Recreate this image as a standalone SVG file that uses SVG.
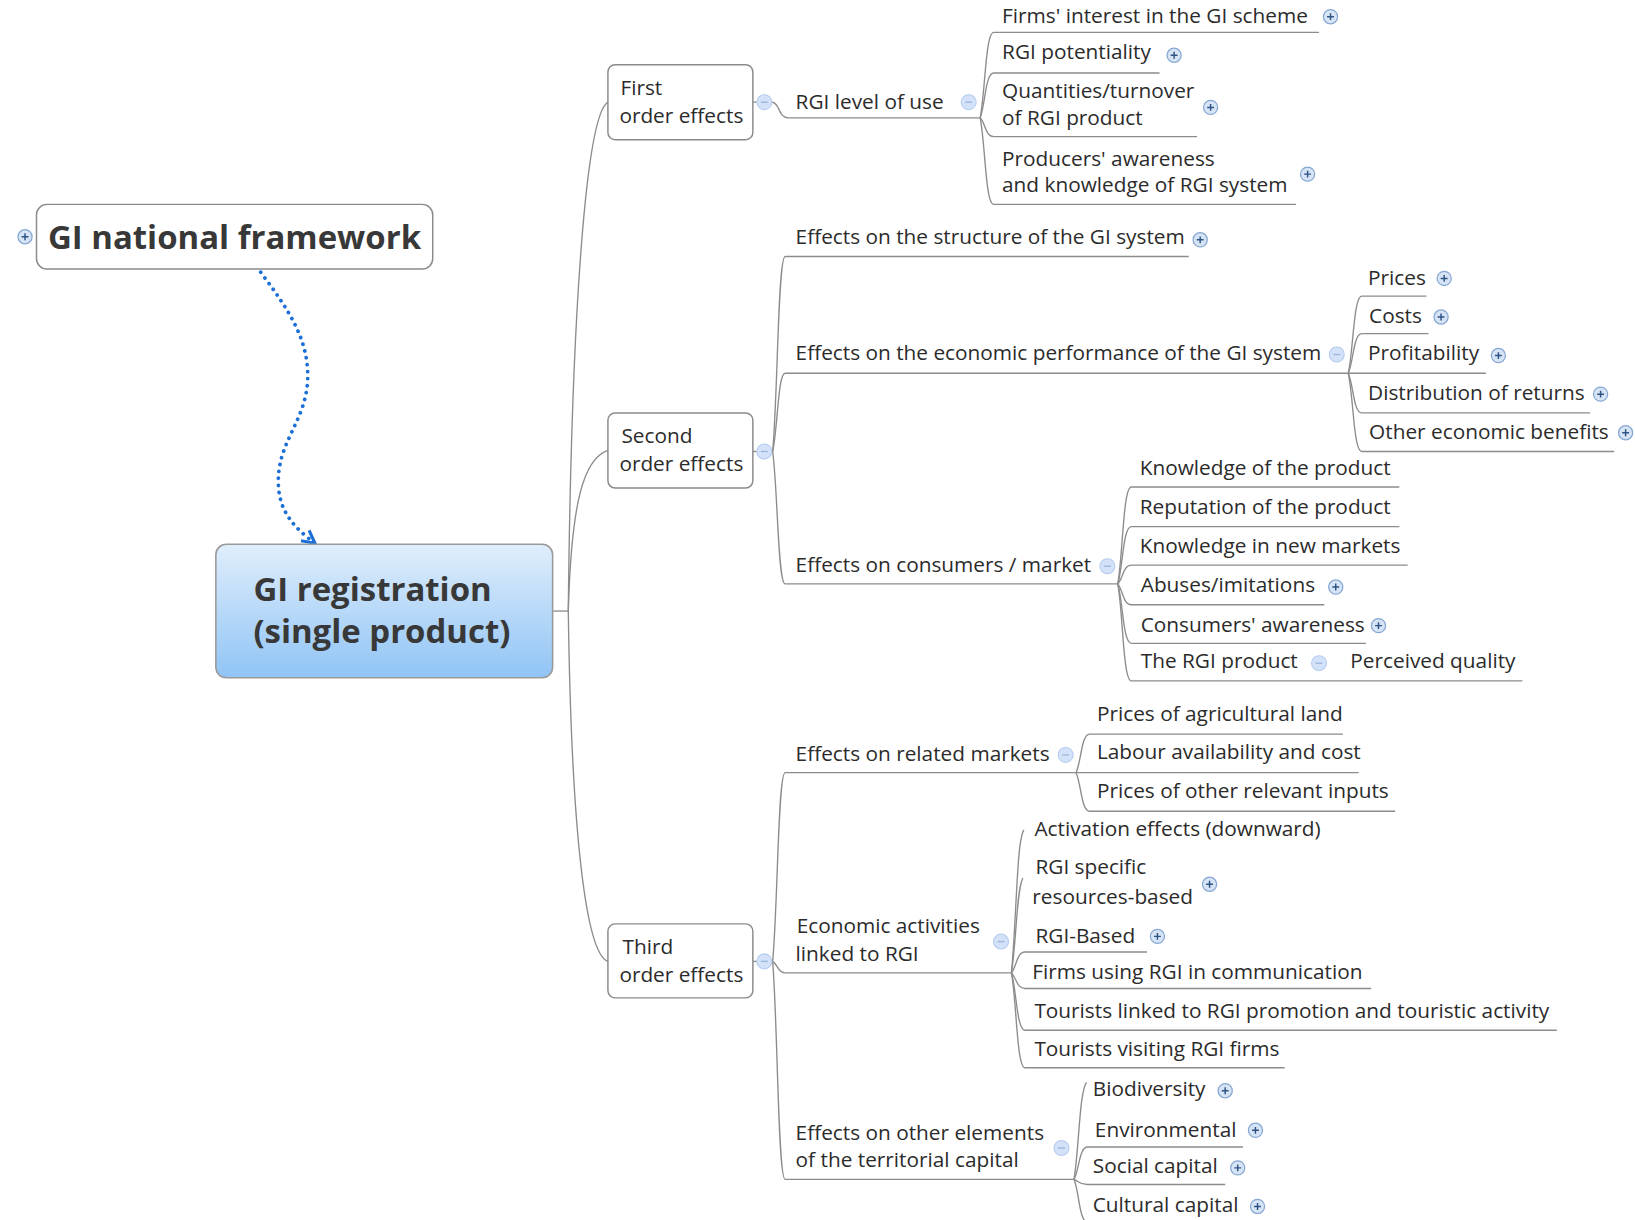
<svg xmlns="http://www.w3.org/2000/svg" xmlns:xlink="http://www.w3.org/1999/xlink" width="1635" height="1220" viewBox="0 0 1635 1220">
<style>
.t{font-family:"Open Sans","Noto Sans","Liberation Sans",sans-serif;font-size:19.95px;fill:#2b2b2b}
.b{font-family:"Open Sans","Noto Sans","Liberation Sans",sans-serif;font-weight:bold;font-size:31.6px;fill:#383838}
.ln{fill:none;stroke:#8c8c8c;stroke-width:1.3}
.box{fill:#ffffff;stroke:#8a8a8a;stroke-width:1.4}
.dot{fill:none;stroke:#1b6fd6;stroke-width:3.6;stroke-linecap:round;stroke-dasharray:0.1 6.6}
</style>
<defs>
<linearGradient id="rootg" x1="0" y1="0" x2="0" y2="1">
<stop offset="0" stop-color="#e0eefc"/>
<stop offset="1" stop-color="#90c4f5"/>
</linearGradient>
<g id="plus"><circle r="6.8" fill="#d6e4f6" stroke="#86a7d2" stroke-width="1.2"/><path d="M-3.3,0H3.3M0,-3.3V3.3" stroke="#2f5385" stroke-width="1.4"/></g>
<g id="minus"><circle r="7.2" fill="#d3e2f8" stroke="#b3cbee" stroke-width="1"/><path d="M-3.3,0H3.3" stroke="#9bb6e0" stroke-width="1.3"/></g>
<marker id="arr" viewBox="0 0 14 14" refX="12" refY="7" markerWidth="16" markerHeight="16" markerUnits="userSpaceOnUse" orient="auto">
<path d="M1.5,1.5 L12,7 L1.5,12.5" fill="none" stroke="#1b6fd6" stroke-width="2.6"/>
</marker>
</defs>
<rect width="1635" height="1220" fill="#ffffff"/>
<g transform="scale(1.04273)">
<g id="connectors">
<path class="dot" d="M250,261 C275,295 297,325 295,365 C293,405 265,425 267,465 C268,495 288,510 302,521" marker-end="url(#arr)"/>
<path class="ln" d="M530,586 L545,586"/>
<path class="ln" d="M545,586 C548,300 562,110 583,98"/>
<path class="ln" d="M545,586 C548,480 560,440 583,432"/>
<path class="ln" d="M545,586 C548,800 562,915 583,922"/>
<path class="ln" d="M722,98 L740,98 C748,98 746,113 756,113 L940,113"/>
<path class="ln" d="M940,113 C945,88 945,31 953,31 L1265,31"/>
<path class="ln" d="M940,113 C945,100 945,70 953,70 L1112,70"/>
<path class="ln" d="M940,113 C945,118 945,131 953,131 L1148,131"/>
<path class="ln" d="M940,113 C945,138 945,196 953,196 L1243,196"/>
<path class="ln" d="M722,433 L741,433"/>
<path class="ln" d="M741,433 C746,377 746,246 753,246 L1140,246"/>
<path class="ln" d="M741,433 C746,410 746,358 753,358 L1293,358"/>
<path class="ln" d="M741,433 C746,471 746,560 753,560 L1072,560"/>
<path class="ln" d="M1293,358 C1298,336 1298,284 1306,284 L1368,284"/>
<path class="ln" d="M1293,358 C1298,347 1298,320 1306,320 L1370,320"/>
<path class="ln" d="M1293,358 L1425,358"/>
<path class="ln" d="M1293,358 C1298,369 1298,396 1306,396 L1525,396"/>
<path class="ln" d="M1293,358 C1298,380 1298,433 1306,433 L1548,433"/>
<path class="ln" d="M1072,560 C1077,531 1077,467 1085,467 L1342,467"/>
<path class="ln" d="M1072,560 C1077,543 1077,505 1085,505 L1342,505"/>
<path class="ln" d="M1072,560 C1077,555 1077,542 1085,542 L1350,542"/>
<path class="ln" d="M1072,560 C1077,566 1077,580 1085,580 L1270,580"/>
<path class="ln" d="M1072,560 C1077,577 1077,617 1085,617 L1310,617"/>
<path class="ln" d="M1072,560 C1077,588 1077,653 1085,653 L1460,653"/>
<path class="ln" d="M722,922 L741,922"/>
<path class="ln" d="M741,922 C746,868 746,741 753,741 L1032,741"/>
<path class="ln" d="M741,922 C746,925 746,933 753,933 L970,933"/>
<path class="ln" d="M741,922 C746,985 746,1131 753,1131 L1030,1131"/>
<path class="ln" d="M1032,741 C1037,730 1037,704 1045,704 L1288,704"/>
<path class="ln" d="M1032,741 L1303,741"/>
<path class="ln" d="M1032,741 C1037,752 1037,778 1045,778 L1338,778"/>
<path class="ln" d="M970,933 C975,880 975,805 982,796"/>
<path class="ln" d="M970,933 C975,900 975,852 981,842"/>
<path class="ln" d="M970,933 C975,927 975,913 983,913 L1100,913"/>
<path class="ln" d="M970,933 C975,938 975,948 983,948 L1315,948"/>
<path class="ln" d="M970,933 C975,950 975,988 983,988 L1493,988"/>
<path class="ln" d="M970,933 C975,960 975,1024 983,1024 L1232,1024"/>
<path class="ln" d="M1030,1131 C1035,1100 1035,1048 1042,1038"/>
<path class="ln" d="M1030,1131 C1035,1122 1035,1100 1043,1100 L1192,1100"/>
<path class="ln" d="M1030,1131 C1035,1133 1035,1136 1043,1136 L1175,1136"/>
<path class="ln" d="M1030,1131 C1035,1143 1035,1172 1043,1172 L1200,1172"/>
</g>
<g id="n-framework"><rect x="35" y="196" width="380" height="62" rx="10" class="box"/><use xlink:href="#plus" x="24" y="227"/><text class="b" x="46" y="239">GI national framework</text></g>
<g id="n-root"><rect x="207" y="522" width="323" height="128" rx="10" fill="url(#rootg)" stroke="#9a9a9a" stroke-width="1.5"/><text class="b" x="243" y="576">GI registration</text><text class="b" x="243" y="617">(single product)</text></g>
<g id="n-first"><rect x="583" y="62" width="139" height="72" rx="7" class="box"/><text class="t" x="595" y="91">First</text><text class="t" x="594" y="118">order effects</text><use xlink:href="#minus" x="733" y="98"/></g>
<g id="n-second"><rect x="583" y="396" width="139" height="72" rx="7" class="box"/><text class="t" x="596" y="425">Second</text><text class="t" x="594" y="452">order effects</text><use xlink:href="#minus" x="733" y="433"/></g>
<g id="n-third"><rect x="583" y="886" width="139" height="71" rx="7" class="box"/><text class="t" x="597" y="915">Third</text><text class="t" x="594" y="942">order effects</text><use xlink:href="#minus" x="733" y="922"/></g>
<g id="n-rgi-level"><text class="t" x="763" y="105">RGI level of use</text><use xlink:href="#minus" x="929" y="98"/></g>
<g id="n-firms-interest"><text class="t" x="961" y="22">Firms' interest in the GI scheme</text><use xlink:href="#plus" x="1276" y="16"/></g>
<g id="n-rgi-potentiality"><text class="t" x="961" y="57">RGI potentiality</text><use xlink:href="#plus" x="1126" y="53"/></g>
<g id="n-quantities"><text class="t" x="961" y="94">Quantities/turnover</text><text class="t" x="961" y="120">of RGI product</text><use xlink:href="#plus" x="1161" y="103"/></g>
<g id="n-producers"><text class="t" x="961" y="159">Producers' awareness</text><text class="t" x="961" y="184">and knowledge of RGI system</text><use xlink:href="#plus" x="1254" y="167"/></g>
<g id="n-structure"><text class="t" x="763" y="234">Effects on the structure of the GI system</text><use xlink:href="#plus" x="1151" y="230"/></g>
<g id="n-economic"><text class="t" x="763" y="345">Effects on the economic performance of the GI system</text><use xlink:href="#minus" x="1282" y="340"/></g>
<g id="n-prices"><text class="t" x="1312" y="273">Prices</text><use xlink:href="#plus" x="1385" y="267"/></g>
<g id="n-costs"><text class="t" x="1313" y="310">Costs</text><use xlink:href="#plus" x="1382" y="304"/></g>
<g id="n-profitability"><text class="t" x="1312" y="345">Profitability</text><use xlink:href="#plus" x="1437" y="341"/></g>
<g id="n-distribution"><text class="t" x="1312" y="384">Distribution of returns</text><use xlink:href="#plus" x="1535" y="378"/></g>
<g id="n-other-econ"><text class="t" x="1313" y="421">Other economic benefits</text><use xlink:href="#plus" x="1559" y="415"/></g>
<g id="n-consumers"><text class="t" x="763" y="549">Effects on consumers / market</text><use xlink:href="#minus" x="1062" y="543"/></g>
<g id="n-knowledge-product"><text class="t" x="1093" y="456">Knowledge of the product</text></g>
<g id="n-reputation"><text class="t" x="1093" y="493">Reputation of the product</text></g>
<g id="n-knowledge-new"><text class="t" x="1093" y="530">Knowledge in new markets</text></g>
<g id="n-abuses"><text class="t" x="1094" y="568">Abuses/imitations</text><use xlink:href="#plus" x="1281" y="563"/></g>
<g id="n-consumer-awareness"><text class="t" x="1094" y="606">Consumers' awareness</text><use xlink:href="#plus" x="1322" y="600"/></g>
<g id="n-rgi-product"><text class="t" x="1094" y="641">The RGI product</text><use xlink:href="#minus" x="1265" y="636"/></g>
<g id="n-perceived"><text class="t" x="1295" y="641">Perceived quality</text></g>
<g id="n-related"><text class="t" x="763" y="730">Effects on related markets</text><use xlink:href="#minus" x="1022" y="724"/></g>
<g id="n-prices-land"><text class="t" x="1052" y="691">Prices of agricultural land</text></g>
<g id="n-labour"><text class="t" x="1052" y="728">Labour availability and cost</text></g>
<g id="n-other-inputs"><text class="t" x="1052" y="765">Prices of other relevant inputs</text></g>
<g id="n-econ-activities"><text class="t" x="764" y="895">Economic activities</text><text class="t" x="763" y="922">linked to RGI</text><use xlink:href="#minus" x="960" y="903"/></g>
<g id="n-activation"><text class="t" x="992" y="802">Activation effects (downward)</text></g>
<g id="n-rgi-specific"><text class="t" x="993" y="838">RGI specific</text><text class="t" x="990" y="867">resources-based</text><use xlink:href="#plus" x="1160" y="848"/></g>
<g id="n-rgi-based"><text class="t" x="993" y="904">RGI-Based</text><use xlink:href="#plus" x="1110" y="898"/></g>
<g id="n-firms-comm"><text class="t" x="990" y="939">Firms using RGI in communication</text></g>
<g id="n-tourists-linked"><text class="t" x="992" y="976">Tourists linked to RGI promotion and touristic activity</text></g>
<g id="n-tourists-visiting"><text class="t" x="992" y="1013">Tourists visiting RGI firms</text></g>
<g id="n-other-elements"><text class="t" x="763" y="1093">Effects on other elements</text><text class="t" x="763" y="1119">of the territorial capital</text><use xlink:href="#minus" x="1018" y="1101"/></g>
<g id="n-biodiversity"><text class="t" x="1048" y="1051">Biodiversity</text><use xlink:href="#plus" x="1175" y="1046"/></g>
<g id="n-environmental"><text class="t" x="1050" y="1090">Environmental</text><use xlink:href="#plus" x="1204" y="1084"/></g>
<g id="n-social"><text class="t" x="1048" y="1125">Social capital</text><use xlink:href="#plus" x="1187" y="1120"/></g>
<g id="n-cultural"><text class="t" x="1048" y="1162">Cultural capital</text><use xlink:href="#plus" x="1206" y="1157"/></g>
</g>
</svg>
